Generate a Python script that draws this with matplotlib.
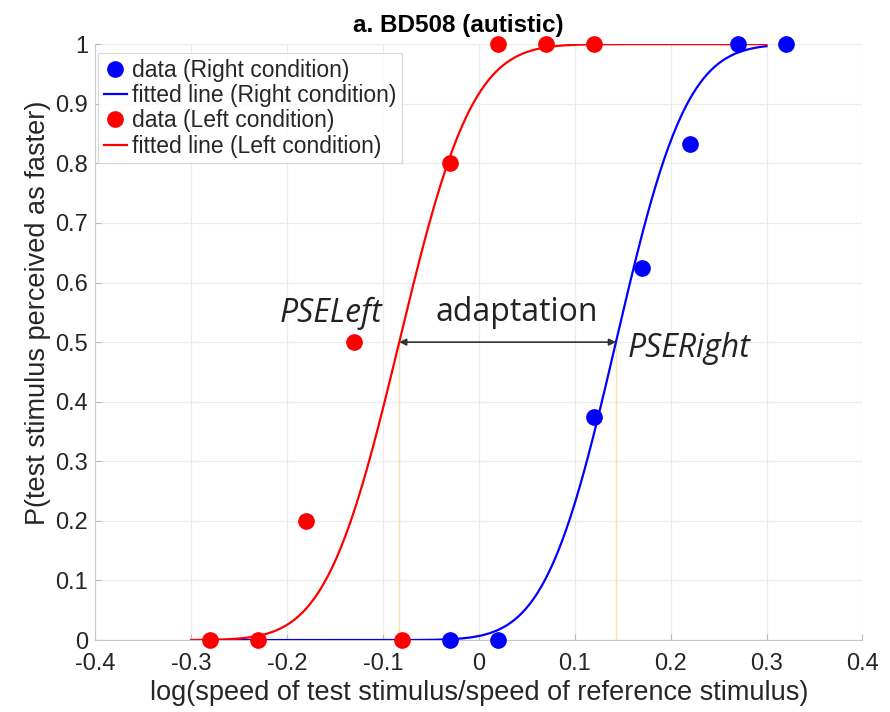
"""Psychometric curves for BD508, Left vs Right adaptation conditions."""

import math

import matplotlib

matplotlib.use("Agg")
import matplotlib.pyplot as plt  # noqa: E402
import numpy as np  # noqa: E402

# data
x_right = [-0.03, 0.02, 0.12, 0.17, 0.22, 0.27, 0.32]
p_right = [0.0, 0.0, 0.375, 0.625, 0.833, 1.0, 1.0]
x_left = [-0.28, -0.23, -0.18, -0.13, -0.08, -0.03, 0.02, 0.07, 0.12]
p_left = [0.0, 0.0, 0.2, 0.5, 0.0, 0.8, 1.0, 1.0, 1.0]

# fitted cumulative-Gaussian parameters (PSE, sigma)
pse_right, sigma_right = 0.143, 0.058
pse_left, sigma_left = -0.083, 0.06
fit_range = (-0.3, 0.3)

x_ticks = [-0.4, -0.3, -0.2, -0.1, 0, 0.1, 0.2, 0.3, 0.4]
x_ticklabels = ["-0.4", "-0.3", "-0.2", "-0.1", "0", "0.1", "0.2", "0.3", "0.4"]
y_ticks = [0, 0.1, 0.2, 0.3, 0.4, 0.5, 0.6, 0.7, 0.8, 0.9, 1]
y_ticklabels = ["0", "0.1", "0.2", "0.3", "0.4", "0.5", "0.6", "0.7", "0.8", "0.9", "1"]


def cum_gauss(x, pse, sigma):
    z = (np.asarray(x) - pse) / (sigma * math.sqrt(2))
    return 0.5 * (1 + np.vectorize(math.erf)(z))


plt.rcParams["font.family"] = ["Liberation Sans", "DejaVu Sans"]

fig = plt.figure(figsize=(8.9, 7.12), dpi=100)
ax = fig.add_axes([0.107, 0.101, 0.862, 0.837])

xs = np.linspace(fit_range[0], fit_range[1], 400)

# PSE guide lines
ax.plot([pse_left, pse_left], [0, 0.5], color="#f3e3a8", lw=1.0, zorder=1)
ax.plot([pse_right, pse_right], [0, 0.5], color="#f3e3a8", lw=1.0, zorder=1)

ax.plot(x_right, p_right, "o", color="#0000ff", ms=11, clip_on=False,
        zorder=4, label="data (Right condition)")
ax.plot(xs, cum_gauss(xs, pse_right, sigma_right), color="#0000ff", lw=1.6,
        zorder=3, label="fitted line (Right condition)")
ax.plot(x_left, p_left, "o", color="#ff0000", ms=11, clip_on=False,
        zorder=4, label="data (Left condition)")
ax.plot(xs, cum_gauss(xs, pse_left, sigma_left), color="#ff0000", lw=1.6,
        zorder=3, label="fitted line (Left condition)")

# adaptation arrow between the two PSEs
ax.annotate("", xy=(pse_left, 0.5), xytext=(pse_right, 0.5),
            arrowprops=dict(arrowstyle="<|-|>", color="#333333", lw=1.2,
                            mutation_scale=10, shrinkA=0, shrinkB=0),
            zorder=5)
ax.text(0.040, 0.522, "adaptation", ha="center", va="bottom", fontsize=23,
        color="#222222", family=["Open Sans", "DejaVu Sans"])
ax.text(-0.208, 0.548, "PSELeft", ha="left", va="center", fontsize=23,
        style="italic", color="#222222", family=["Open Sans", "DejaVu Sans"])
ax.text(0.155, 0.49, "PSERight", ha="left", va="center", fontsize=23,
        style="italic", color="#222222", family=["Open Sans", "DejaVu Sans"])

ax.set_xlim(-0.4, 0.4)
ax.set_ylim(0, 1)
ax.set_xticks(x_ticks)
ax.set_xticklabels(x_ticklabels)
ax.set_yticks(y_ticks)
ax.set_yticklabels(y_ticklabels)
ax.tick_params(direction="in", length=4, color="#bbbbbb", labelsize=17,
               labelcolor="#262626")
ax.tick_params(axis="x", pad=9)
ax.tick_params(axis="y", pad=5)
ax.grid(True, color="#ececec", lw=0.9)
ax.set_axisbelow(True)
for side in ("top", "right"):
    ax.spines[side].set_visible(False)
for side in ("left", "bottom"):
    ax.spines[side].set_color("#c8c8c8")

ax.set_xlabel("log(speed of test stimulus/speed of reference stimulus)",
              fontsize=19.5, color="#262626", labelpad=4)
ax.set_ylabel("P(test stimulus perceived as faster)", fontsize=19.5,
              color="#262626")
ax.yaxis.set_label_coords(-0.058, 0.55)
ax.text(0.473, 1.012, "a. BD508 (autistic)", transform=ax.transAxes,
        ha="center", va="bottom", fontsize=17.5, fontweight="bold")

leg = ax.legend(loc="upper left", bbox_to_anchor=(0.004, 0.985),
                fontsize=16.5, frameon=True, fancybox=False, borderpad=0.25,
                labelspacing=0.1, handlelength=1.0, handletextpad=0.2,
                borderaxespad=0.0)
leg.get_frame().set_edgecolor("#cfcfcf")
leg.get_frame().set_linewidth(0.8)
for text in leg.get_texts():
    text.set_color("#262626")

fig.savefig("out.png", dpi=100)
plt.close(fig)
